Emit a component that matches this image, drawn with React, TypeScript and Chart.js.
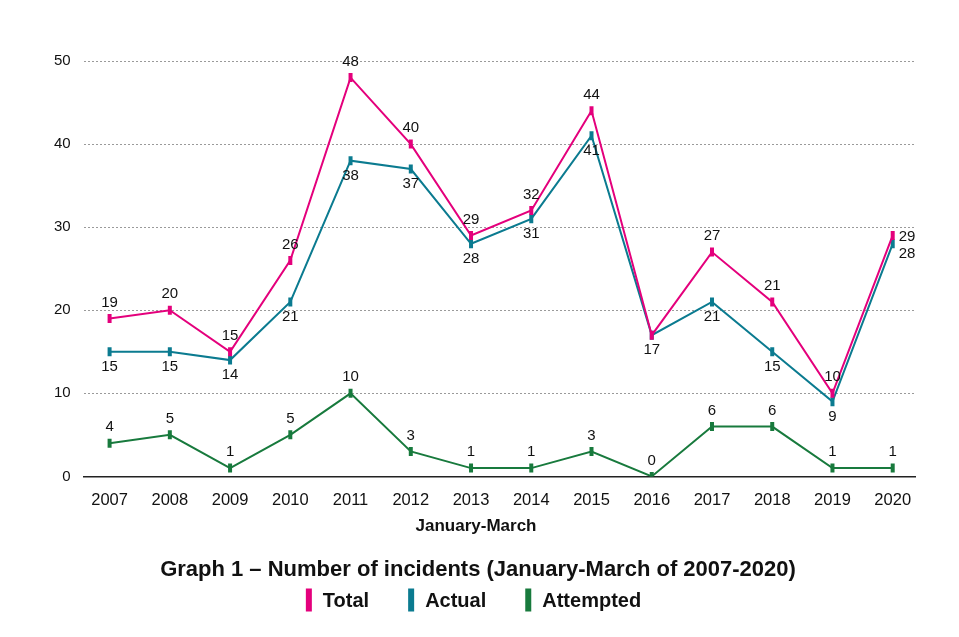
import React, { useEffect, useRef } from "react";
import { Chart, registerables } from "chart.js";

Chart.register(...registerables);

const years = ["2007", "2008", "2009", "2010", "2011", "2012", "2013", "2014", "2015", "2016", "2017", "2018", "2019", "2020"];
const totalValues = [19, 20, 15, 26, 48, 40, 29, 32, 44, 17, 27, 21, 10, 29];
const actualValues = [15, 15, 14, 21, 38, 37, 28, 31, 41, 17, 21, 15, 9, 28];
const attemptedValues = [4, 5, 1, 5, 10, 3, 1, 1, 3, 0, 6, 6, 1, 1];
const yTicks = [0, 10, 20, 30, 40, 50];
const xAxisTitle = "January-March";
const chartTitle = "Graph 1 – Number of incidents (January-March of 2007-2020)";

// label placement for each point's value label
const totalLabelPos = ["above", "above", "above", "above", "above", "above", "above", "above", "above", "none", "above", "above", "above", "right"];
const actualLabelPos = ["below", "below", "below", "below", "below", "below", "below", "below", "below", "below", "below", "below", "below", "rightBelow"];
const attemptedLabelPos = ["above", "above", "above", "above", "above", "above", "above", "above", "above", "above", "above", "above", "above", "above"];

const FONT = "'Liberation Sans', Arial, Helvetica, sans-serif";
const COLORS = { total: "#e4007c", actual: "#0b7b90", attempted: "#187a3d" };
const AXIS_TITLE_SIZE = 17;

const valueLabels = {
  id: "valueLabels",
  afterDatasetsDraw(chart: any) {
    const ctx = chart.ctx;
    ctx.save();
    ctx.font = `15px ${FONT}`;
    ctx.fillStyle = "#111";
    chart.data.datasets.forEach((ds: any, di: number) => {
      const meta = chart.getDatasetMeta(di);
      const positions: string[] = ds.labelPos;
      meta.data.forEach((pt: any, i: number) => {
        const pos = positions[i];
        if (pos === "none") return;
        const text = String(ds.data[i].y);
        let x = pt.x;
        let y = pt.y;
        ctx.textAlign = "center";
        ctx.textBaseline = "middle";
        if (pos === "above") y -= 16;
        else if (pos === "below") y += 15;
        else if (pos === "right") {
          ctx.textAlign = "left";
          x += 6;
          y += 1;
        } else if (pos === "rightBelow") {
          ctx.textAlign = "left";
          x += 6;
          y += 10;
        }
        ctx.fillText(text, x, y);
      });
    });
    ctx.restore();
  },
};

const centeredAxisTitle = {
  id: "centeredAxisTitle",
  afterDraw(chart: any) {
    const ctx = chart.ctx;
    const sx = chart.scales.x;
    ctx.save();
    ctx.font = `bold ${AXIS_TITLE_SIZE}px ${FONT}`;
    ctx.fillStyle = "#111";
    ctx.textAlign = "center";
    ctx.textBaseline = "middle";
    ctx.fillText(xAxisTitle, chart.width / 2 - 3.5, sx.bottom - (AXIS_TITLE_SIZE * 1.2) / 2);
    ctx.restore();
  },
};

const customLegend = {
  id: "customLegend",
  afterDraw(chart: any) {
    const ctx = chart.ctx;
    ctx.save();
    ctx.font = `bold 20px ${FONT}`;
    ctx.textBaseline = "middle";
    ctx.textAlign = "left";
    const boxW = 6;
    const boxH = 23;
    const gapText = 11;
    const gapItem = 39;
    const items = chart.data.datasets.map((ds: any) => ({
      text: ds.label,
      color: ds.borderColor,
      w: ctx.measureText(ds.label).width,
    }));
    const total = items.reduce((s: number, it: any) => s + boxW + gapText + it.w, 0) + gapItem * (items.length - 1);
    let x = chart.width / 2 - 6 - total / 2;
    const cy = chart.height - 29;
    items.forEach((it: any) => {
      ctx.fillStyle = it.color;
      ctx.fillRect(x, cy - boxH / 2, boxW, boxH);
      x += boxW + gapText;
      ctx.fillStyle = "#111";
      ctx.fillText(it.text, x, cy + 1);
      x += it.w + gapItem;
    });
    ctx.restore();
  },
};

export default function App() {
  const ref = useRef<HTMLCanvasElement>(null);
  useEffect(() => {
    if (!ref.current) return;
    const mk = (label: string, values: number[], color: string, pos: string[]) => ({
      label,
      data: values.map((v, i) => ({ x: i, y: v })),
      borderColor: color,
      backgroundColor: color,
      borderWidth: 2,
      pointStyle: "line",
      rotation: 90,
      pointRadius: 4.5,
      pointBorderWidth: 4,
      pointBorderColor: color,
      pointHoverRadius: 4.5,
      tension: 0,
      labelPos: pos,
    });
    const chart = new Chart(ref.current, {
      type: "line",
      data: {
        datasets: [
          mk("Total", totalValues, COLORS.total, totalLabelPos),
          mk("Actual", actualValues, COLORS.actual, actualLabelPos),
          mk("Attempted", attemptedValues, COLORS.attempted, attemptedLabelPos),
        ] as any,
      },
      options: {
        animation: false,
        responsive: true,
        maintainAspectRatio: false,
        layout: { padding: { left: 33, right: 36, top: 53, bottom: 44 } },
        scales: {
          x: {
            type: "linear",
            min: -0.43,
            max: 13.37,
            afterBuildTicks: (axis: any) => {
              axis.ticks = years.map((_, i) => ({ value: i }));
            },
            ticks: {
              callback: (v: any) => years[v],
              font: { family: FONT, size: 16.5 },
              color: "#111",
              padding: 6,
              maxRotation: 0,
              autoSkip: false,
            },
            grid: { display: false },
            border: { display: true, color: "#222", width: 1.5 },
            title: {
              display: true,
              text: xAxisTitle,
              font: { family: FONT, size: AXIS_TITLE_SIZE, weight: "bold" },
              color: "rgba(0,0,0,0)",
              padding: { top: 0, bottom: 0 },
            },
          },
          y: {
            min: 0,
            max: 50,
            afterBuildTicks: (axis: any) => {
              axis.ticks = yTicks.map((v) => ({ value: v }));
            },
            ticks: {
              font: { family: FONT, size: 15 },
              color: "#111",
              padding: 13,
            },
            grid: {
              color: (c: any) => (c.tick && c.tick.value === 0 ? "rgba(0,0,0,0)" : "#9a9a9a"),
              lineWidth: 1,
              drawTicks: false,
            },
            border: { display: false, dash: [2, 2] },
          },
        },
        plugins: {
          title: {
            display: true,
            position: "bottom",
            text: chartTitle,
            font: { family: FONT, size: 22, weight: "bold" },
            color: "#111",
            padding: { top: 20, bottom: 2 },
          },
          legend: { display: false },
          tooltip: { enabled: false },
        },
      } as any,
      plugins: [valueLabels, centeredAxisTitle, customLegend],
    });
    return () => chart.destroy();
  }, []);
  return (
    <div style={{ width: 943, height: 621 }}>
      <canvas ref={ref} />
    </div>
  );
}
